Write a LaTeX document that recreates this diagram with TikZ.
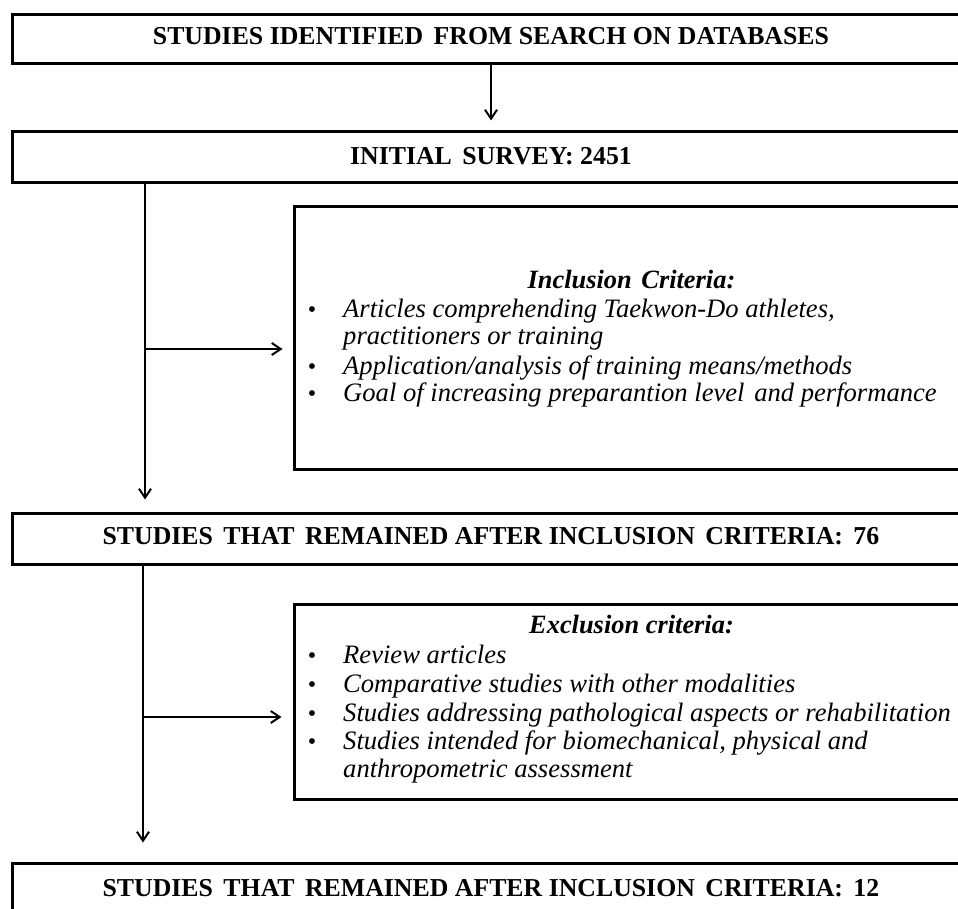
\documentclass[tikz,border=0pt]{standalone}
\usepackage{fontspec}
\setmainfont{Liberation Serif}
\usetikzlibrary{arrows.meta,calc}
\begin{document}
\begin{tikzpicture}[x=1pt,y=-1pt,
  bigbox/.style={draw,line width=3pt,minimum width=958pt,inner sep=0pt},
  critbox/.style={draw,line width=3pt,minimum width=674pt,inner sep=0pt},
  titletext/.style={font=\fontsize{25.8}{28}\selectfont\bfseries,anchor=base,inner sep=0pt},
  itemtext/.style={font=\fontsize{26.6}{29}\selectfont\itshape,anchor=base west,inner sep=0pt},
  bullettext/.style={font=\fontsize{24}{29}\selectfont,anchor=base,inner sep=0pt},
  headtext/.style={font=\fontsize{26.4}{29}\selectfont\bfseries\itshape,anchor=base,inner sep=0pt},
  conn/.style={line width=2pt,-{Straight Barb[length=9pt,width=12pt,line width=2pt]}},
  plainline/.style={line width=2pt}
]
\useasboundingbox (0,0) rectangle (958,909);
\clip (0,0) rectangle (958,909);
\fill[white] (0,0) rectangle (958,909);

% main boxes
\node[bigbox,minimum height=49pt] (B1) at (491,39.5) {};
\node[bigbox,minimum height=51pt] (B2) at (491,157.5) {};
\node[critbox,minimum height=262pt] (Inc) at (631,338) {};
\node[bigbox,minimum height=51pt] (B3) at (491,538.5) {};
\node[critbox,minimum height=195pt] (Exc) at (631,701.5) {};
\node[bigbox,minimum height=51pt] (B4) at (491,888.5) {};

% titles
\node[titletext] (T1) at (491,45) {STUDIES IDENTIFIED\hspace{4pt} FROM SEARCH ON DATABASES};
\node[titletext] (T2) at (491,165) {INITIAL\hspace{4pt} SURVEY: 2451};
\node[titletext] (T3) at (491,544) {STUDIES\hspace{4pt} THAT\hspace{4pt} REMAINED AFTER INCLUSION\hspace{4pt} CRITERIA:\hspace{4pt} 76};
\node[titletext] (T4) at (491,896) {STUDIES\hspace{4pt} THAT\hspace{4pt} REMAINED AFTER INCLUSION\hspace{4pt} CRITERIA:\hspace{4pt} 12};

% inclusion criteria
\node[headtext] (IH) at (631.5,288) {Inclusion\hspace{3pt} Criteria:};
\node[bullettext] (IB1) at (312,317) {\textbullet};
\node[itemtext] (I1) at (343,317) {Articles comprehending Taekwon-Do athletes,};
\node[itemtext] (I1b) at (343,344) {practitioners or training};
\node[bullettext] (IB2) at (312,374) {\textbullet};
\node[itemtext] (I2) at (343,374) {Application/analysis of training means/methods};
\node[bullettext] (IB3) at (312,401) {\textbullet};
\node[itemtext] (I3) at (343,401) {Goal of increasing preparantion level\hspace{3pt} and performance};

% exclusion criteria
\node[headtext] (EH) at (631.5,633) {Exclusion criteria:};
\node[bullettext] (EB1) at (312,663) {\textbullet};
\node[itemtext] (E1) at (343,663) {Review articles};
\node[bullettext] (EB2) at (312,692) {\textbullet};
\node[itemtext] (E2) at (343,692) {Comparative studies with other modalities};
\node[bullettext] (EB3) at (312,721) {\textbullet};
\node[itemtext] (E3) at (343,721) {Studies addressing pathological aspects or rehabilitation};
\node[bullettext] (EB4) at (312,749) {\textbullet};
\node[itemtext] (E4) at (343,749) {Studies intended for biomechanical, physical and};
\node[itemtext] (E4b) at (343,777) {anthropometric assessment};

% connectors
\coordinate (v1) at (145,0);
\coordinate (h1) at (145,349);
\coordinate (v2) at (143,0);
\coordinate (h2) at (143,717);

\draw[conn] (B1.south) -- ([yshift=10pt]B2.north);
\draw[conn] (B2.south -| v1) -- ([yshift=12pt]B3.north -| v1);
\draw[conn] (h1) -- ([xshift=-10pt]Inc.west |- h1);
\draw[conn] (B3.south -| v2) -- ([yshift=19pt]B4.north -| v2);
\draw[conn] (h2) -- ([xshift=-11pt]Exc.west |- h2);
\end{tikzpicture}
\end{document}
